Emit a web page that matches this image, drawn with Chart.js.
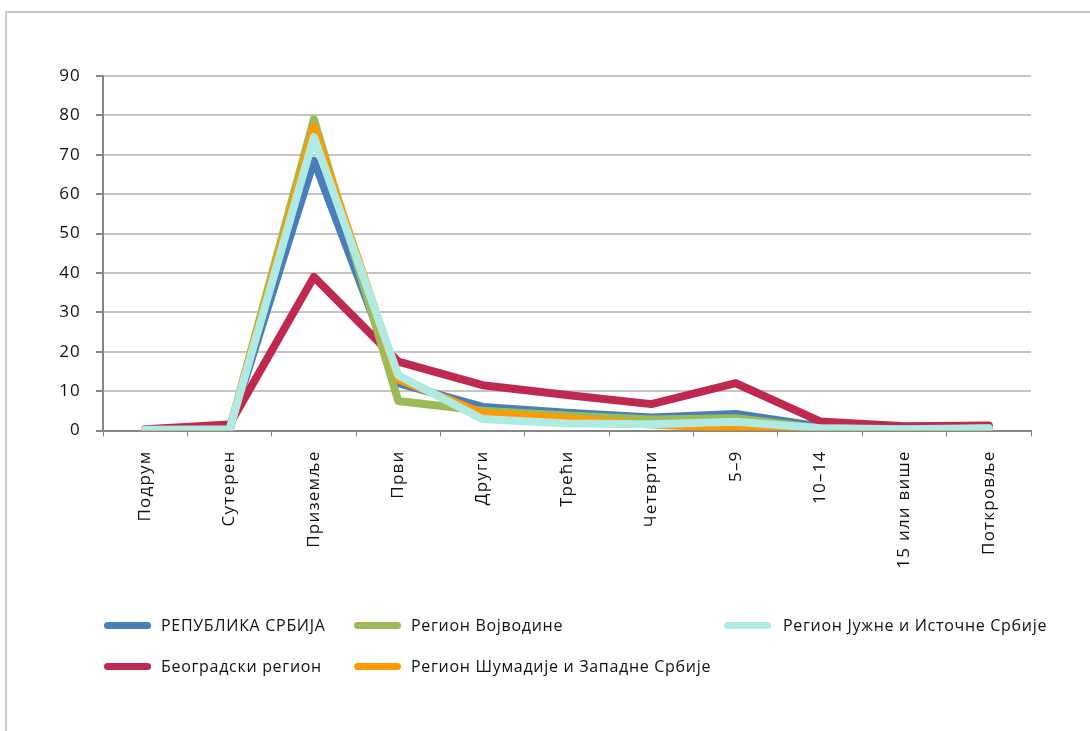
<!DOCTYPE html>
<html>
<head>
<meta charset="utf-8">
<script src="https://cdn.jsdelivr.net/npm/chart.js@4.4.1/dist/chart.umd.min.js"></script>
<style>
  body { margin: 0; background: #fff; width: 1090px; height: 731px; overflow: hidden; position: relative; font-family: "Open Sans", sans-serif; }
  #frame { position: absolute; left: 5px; top: 11px; width: 1200px; height: 800px; border-left: 2px solid #c8c8c8; border-top: 2px solid #c8c8c8; }
  #wrap { position: absolute; left: 0; top: 0; width: 1090px; height: 731px; }
  .leg { position: absolute; height: 20px; font-size: 16px; letter-spacing: 0.7px; color: #111; white-space: nowrap; }
  .leg i { position: absolute; left: 0; top: 6px; width: 47px; height: 7px; border-radius: 4px; }
  .leg span { position: absolute; top: -2px; }
</style>
</head>
<body>
<div id="frame"></div>
<div id="wrap"><canvas id="floorChart" width="1090" height="731"></canvas></div>
<div id="legend"></div>
<script>
// categories (floors)
const floors = ["Подрум", "Сутерен", "Приземље", "Први", "Други", "Трећи", "Четврти", "5–9", "10–14", "15 или више", "Поткровље"];

// shares in %
const republika = [0.2, 0.3, 68.5, 12, 6, 4.5, 3.3, 4.2, 1, 0.3, 0.8];
const beograd   = [0.3, 1.5, 39, 17.5, 11.5, 9, 6.7, 12, 2.3, 1.1, 1.3];
const vojvodina = [0.1, 0.1, 79, 7.5, 5, 3.8, 2.8, 3.1, 0.6, 0.2, 0.5];
const sumadija  = [0.1, 0.2, 77, 13, 4.4, 3, 1.5, 0.6, 0.3, 0.1, 0.4];
const juzna     = [0.2, 0.3, 74.5, 14, 2.9, 1.8, 1.6, 2.2, 0.6, 0.3, 0.6];

const yTicks = [0, 10, 20, 30, 40, 50, 60, 70, 80, 90];

const seriesNames = ["РЕПУБЛИКА СРБИЈА", "Београдски регион", "Регион Војводине", "Регион Шумадије и Западне Србије", "Регион Јужне и Источне Србије"];
const seriesColors = ["#4a7ebb", "#c0294f", "#9bbb59", "#ff9a00", "#afeae3"];
const seriesData = [republika, beograd, vojvodina, sumadija, juzna];

// legend slots: [sample x, row y]
const legendSlots = [[104, 616], [104, 657], [354, 616], [354, 657], [724, 616]];
const legendTextX = [57, 57, 57, 57, 59];

const legendBox = document.getElementById("legend");
seriesNames.forEach((name, i) => {
  const item = document.createElement("div");
  item.className = "leg";
  item.style.left = legendSlots[i][0] + "px";
  item.style.top = legendSlots[i][1] + "px";
  item.innerHTML = `<i style="background:${seriesColors[i]}"></i><span style="left:${legendTextX[i]}px">${name}</span>`;
  legendBox.appendChild(item);
});

// the original labels are set a little wide
const spacing = {
  id: "spacing",
  beforeDraw(chart) { chart.ctx.letterSpacing = "1.2px"; },
};

const ctx = document.getElementById("floorChart").getContext("2d");
new Chart(ctx, {
  type: "line",
  data: {
    labels: floors,
    datasets: seriesData.map((values, i) => ({
      label: seriesNames[i],
      data: values,
      borderColor: seriesColors[i],
      backgroundColor: seriesColors[i],
      borderWidth: 8,
      borderCapStyle: "round",
      borderJoinStyle: "round",
      pointRadius: 0,
      tension: 0,
      fill: false,
      order: seriesData.length - i,
    })),
  },
  options: {
    responsive: false,
    animation: false,
    layout: { padding: { left: 0, right: 59, top: 76, bottom: 0 } },
    plugins: { legend: { display: false }, tooltip: { enabled: false } },
    scales: {
      x: {
        offset: true,
        afterFit: (s) => { s.height = 300.5; },
        grid: { drawOnChartArea: false, drawTicks: true, tickLength: 6, tickColor: "#868686", offset: true },
        border: { color: "#868686", width: 2 },
        ticks: {
          autoSkip: false, minRotation: 90, maxRotation: 90, padding: 14,
          color: "#111", font: { family: "Open Sans", size: 17 },
        },
      },
      y: {
        min: 0,
        max: 90,
        afterFit: (s) => { s.width = 103; },
        afterBuildTicks: (s) => { s.ticks = yTicks.map((v) => ({ value: v })); },
        grid: { color: "#c4c4c4", lineWidth: 2, tickLength: 7, tickColor: "#868686" },
        border: { color: "#868686", width: 2 },
        ticks: { padding: 15, color: "#111", font: { family: "Open Sans", size: 17 } },
      },
    },
  },
  plugins: [spacing],
});
</script>
</body>
</html>
